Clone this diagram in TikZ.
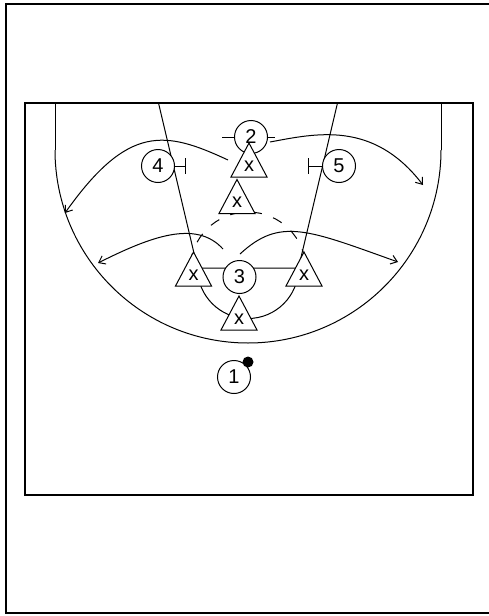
\documentclass[tikz,border=0pt]{standalone}
\usepackage{fontspec}
\setmainfont{Liberation Sans}
\usetikzlibrary{arrows.meta}
\tikzset{
  courtline/.style={line width=1pt},
  border/.style={line width=1.8pt},
  lbl/.style={inner sep=0pt,font=\fontsize{20}{20}\selectfont},
  player/.style={circle,draw,line width=1pt,fill=white,minimum size=33pt,inner sep=0pt,font=\fontsize{20}{20}\selectfont},
  ballnode/.style={circle,fill=black,minimum size=11pt,inner sep=0pt},
  move/.style={line width=1pt,-{Straight Barb[length=6pt,width=9pt]}},
  passline/.style={line width=1pt,dash pattern=on 10pt off 12pt,dash phase=15pt},
  pics/defender/.style={code={
    \draw[courtline,fill=white] (0,0) coordinate (-apex) -- (18,34) coordinate (-br) -- (-18,34) coordinate (-bl) -- cycle;
    \node[lbl] (-x) at (0,23) {x};
  }}
}
\begin{document}
\begin{tikzpicture}[x=1pt,y=-1pt]
\useasboundingbox (0,0) rectangle (489,616);
% outer frame
\draw[border] (489,4) -- (6,4) -- (6,613) -- (489,613);
% court
\draw[border] (25,103) rectangle (473,495);
% lane lines and free throw line
\draw[courtline] (158.5,103) -- (197.5,268) -- (298.5,268) -- (337.5,103);
% free throw circle: lower solid, upper dashed
\begin{scope}
  \clip (0,268) rectangle (489,616);
  \draw[courtline] (248,268) circle[radius=50.5];
\end{scope}
\draw[passline] (190,270) .. controls (190,237.97) and (215.97,212) .. (248,212)
  .. controls (280.03,212) and (306,237.97) .. (306,270);
% three point line
\draw[courtline] (55,103) -- (55,150);
\draw[courtline] (441,103) -- (441,150);
\begin{scope}
  \clip (0,150) rectangle (489,616);
  \draw[courtline] (248,150) circle[radius=193];
\end{scope}
% movement coordinates
\coordinate (m1s) at (228,160);
\coordinate (m1e) at (65,213);
\coordinate (m2s) at (270,142);
\coordinate (m2e) at (423,185);
\coordinate (m3s) at (223,249);
\coordinate (m3e) at (98,263);
\coordinate (m4s) at (240,254);
\coordinate (m4e) at (398,262);
\draw[move] (m1s) .. controls (165.6,131) and (128.7,123.2) .. (m1e);
\draw[move] (m2s) .. controls (315.9,133.5) and (373.1,120.1) .. (m2e);
\draw[move] (m3s) .. controls (196,219.3) and (150.4,236.8) .. (m3e);
\draw[move] (m4s) .. controls (280,217) and (307.3,229.6) .. (m4e);
% players
\node[player] (p4) at (158,166) {4};
\node[player] (p5) at (339,166) {5};
\node[player] (p2) at (251,137) {2};
\node[player] (p3) at (239.5,277) {3};
\node[player] (p1) at (234,377) {1};
\node[ballnode] (ball) at (248,362) {};
% defenders
\pic (t1) at (249,143) {defender};
\pic (t2) at (237,179.5) {defender};
\pic (t3) at (193.5,252) {defender};
\pic (t4) at (304,252) {defender};
\pic (t5) at (239,296) {defender};
% screens
\coordinate (s4) at (185,166);
\coordinate (s5) at (308,166);
\draw[courtline] (p4.east) -- (s4) ++(0,-8) -- ++(0,16);
\draw[courtline] (p5.west) -- (s5) ++(0,-8) -- ++(0,16);
% ticks beside player 2
\coordinate (k2l) at (222,137);
\coordinate (k2r) at (275,137);
\draw[courtline] (p2.west) -- (k2l);
\draw[courtline] (p2.east) -- (k2r);
\end{tikzpicture}
\end{document}
